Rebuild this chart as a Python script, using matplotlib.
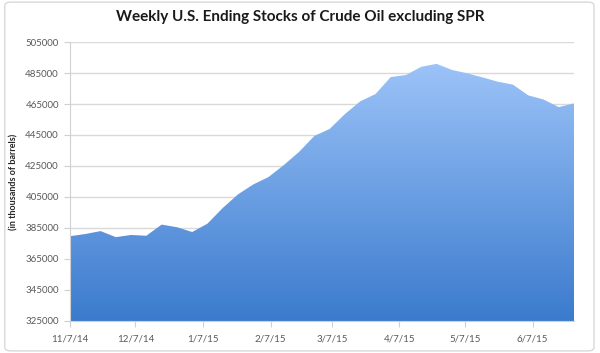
import numpy as np
import pandas as pd
import matplotlib
matplotlib.use("Agg")
from matplotlib import pyplot as plt
from matplotlib.colors import LinearSegmentedColormap
from matplotlib.patches import FancyBboxPatch

# weekly stocks, thousands of barrels
week_dates = pd.date_range("2014-11-07", "2015-06-26", freq="7D")
stocks = [379700, 381100, 383000, 379100, 380500, 380000, 387200, 385500,
          382400, 387800, 397900, 406700, 413100, 417900, 425600, 434100,
          444400, 448900, 458500, 466700, 471400, 482400, 483700, 489000,
          490900, 487000, 484800, 482200, 479400, 477500, 470600, 467900,
          463000, 465400]
tick_dates = pd.to_datetime(["2014-11-07", "2014-12-07", "2015-01-07", "2015-02-07",
                             "2015-03-07", "2015-04-07", "2015-05-07", "2015-06-07"])
tick_labels = ["11/7/14", "12/7/14", "1/7/15", "2/7/15", "3/7/15", "4/7/15", "5/7/15", "6/7/15"]
y_ticks = np.arange(325000, 505001, 20000)

plt.rcParams['font.family'] = ['Lato', 'DejaVu Sans']

fig = plt.figure(figsize=(6, 3.53), dpi=100)
fig.patches.append(FancyBboxPatch((0.008, 0.006), 0.982, 0.988, boxstyle="round,pad=0,rounding_size=0.01",
                                  transform=fig.transFigure, fill=False, ec="#d9d9d9", lw=1))
ax = fig.add_axes([0.1167, 0.0907, 0.84, 0.7903])

x = matplotlib.dates.date2num(week_dates)
poly = ax.fill_between(x, stocks, 325000, color="none", lw=0)
cmap = LinearSegmentedColormap.from_list("g", ["#3b7bcd", "#9cc3f8"])
grad = np.linspace(0, 1, 256).reshape(-1, 1)
img = ax.imshow(grad, cmap=cmap, origin="lower", aspect="auto",
                extent=[x[0], x[-1], 325000, max(stocks)], zorder=2)
img.set_clip_path(poly.get_paths()[0], transform=ax.transData)

ax.set_xlim(x[0], x[-1])
ax.set_ylim(325000, 505000)
ax.set_yticks(y_ticks)
ax.set_yticklabels([str(v) for v in y_ticks])
ax.set_xticks(matplotlib.dates.date2num(tick_dates))
ax.set_xticklabels(tick_labels)
ax.grid(axis="y", color="#d9d9d9", lw=1, zorder=0)
ax.set_axisbelow(True)
for s in ["top", "right"]:
    ax.spines[s].set_visible(False)
for s in ["left", "bottom"]:
    ax.spines[s].set_color("#d0d0d0")
ax.tick_params(axis="both", colors="#d0d0d0", labelcolor="#595959", labelsize=7, length=4)
ax.tick_params(axis="x", pad=6)
ax.tick_params(axis="y", pad=4)

ax.set_ylabel("(in thousands of barrels)", fontsize=6.5, fontweight="bold", color="#262626")
ax.yaxis.set_label_coords(-0.103, 0.5)
fig.text(0.5, 0.952, "Weekly U.S. Ending Stocks of Crude Oil excluding SPR", ha="center", va="center",
         fontsize=11, fontweight="bold", color="#1a1a1a")

fig.savefig("out.png", dpi=100)
